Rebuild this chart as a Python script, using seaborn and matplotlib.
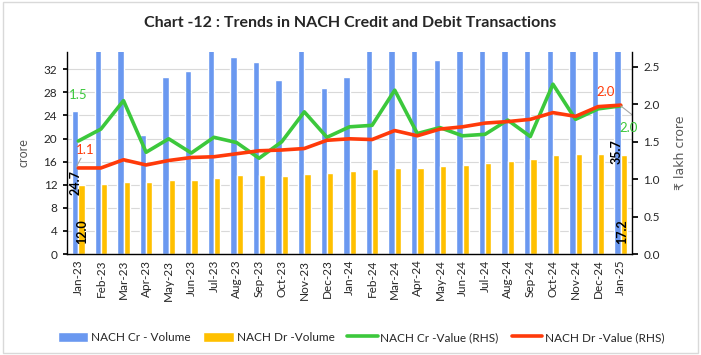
"""Chart 12: trends in NACH credit and debit transactions."""

import matplotlib.pyplot as plt
import numpy as np
import pandas as pd
import seaborn as sns
from matplotlib.lines import Line2D
from matplotlib.patches import Patch, Rectangle


MONTHS = [
    "Jan-23", "Feb-23", "Mar-23", "Apr-23", "May-23", "Jun-23", "Jul-23",
    "Aug-23", "Sep-23", "Oct-23", "Nov-23", "Dec-23", "Jan-24", "Feb-24",
    "Mar-24", "Apr-24", "May-24", "Jun-24", "Jul-24", "Aug-24", "Sep-24",
    "Oct-24", "Nov-24", "Dec-24", "Jan-25",
]
# volumes in crore (many credit bars run past the top of the axis)
CR_VOLUME = [
    24.7, 36.5, 40.2, 20.7, 30.6, 31.7, 35.5, 34.2, 33.3, 30.2, 36.8, 28.8,
    30.6, 37.0, 42.0, 36.0, 33.6, 36.5, 37.5, 38.0, 37.0, 41.0, 38.5, 39.0,
    35.7,
]
DR_VOLUME = [
    12.0, 12.1, 12.4, 12.4, 12.8, 12.9, 13.2, 13.7, 13.7, 13.5, 13.8, 14.0,
    14.4, 14.7, 14.9, 14.9, 15.3, 15.4, 15.8, 16.2, 16.5, 17.1, 17.3, 17.4,
    17.2,
]
# values in lakh crore (RHS)
CR_VALUE = [
    1.51, 1.67, 2.05, 1.36, 1.54, 1.35, 1.56, 1.49, 1.28, 1.50, 1.90, 1.56,
    1.70, 1.72, 2.19, 1.61, 1.69, 1.58, 1.60, 1.79, 1.57, 2.27, 1.80, 1.94,
    1.98,
]
DR_VALUE = [
    1.15, 1.15, 1.26, 1.19, 1.25, 1.29, 1.30, 1.34, 1.38, 1.39, 1.41, 1.52,
    1.54, 1.53, 1.65, 1.58, 1.67, 1.70, 1.75, 1.77, 1.80, 1.89, 1.84, 1.97,
    1.99,
]

BLUE = "#6A98F0"
ORANGE = "#FFC000"
GREEN = "#3CC83C"
RED = "#FF3A0A"


def main() -> None:
    sns.set_theme(style="white")
    plt.rcParams["font.family"] = ["Lato", "DejaVu Sans"]

    bars = pd.DataFrame({
        "month": MONTHS * 2,
        "volume": CR_VOLUME + DR_VOLUME,
        "series": ["NACH Cr - Volume"] * len(MONTHS) + ["NACH Dr -Volume"] * len(MONTHS),
    })

    fig = plt.figure(figsize=(7.01, 3.55), dpi=100)
    fig.patches.append(Rectangle((0.004, 0.006), 0.992, 0.988, transform=fig.transFigure,
                                 fill=False, edgecolor="#d9d9d9", linewidth=1))
    ax = fig.add_axes([0.0956, 0.2845, 0.806, 0.569])

    sns.barplot(data=bars, x="month", y="volume", hue="series", order=MONTHS,
                palette=[BLUE, ORANGE], width=0.56, gap=0, ax=ax, legend=False,
                saturation=1)
    ax.set_ylim(0, 35)
    ax.set_xlim(-0.5, len(MONTHS) - 0.5)
    ax.set_yticks(np.arange(0, 33, 4))
    ax.yaxis.grid(True, color="#d9d9d9", linewidth=0.8)
    ax.set_axisbelow(True)
    ax.set_xlabel("")
    ax.set_ylabel("crore", color="#595959", fontsize=9, labelpad=10)
    ax.tick_params(axis="x", rotation=90, labelsize=8.5, length=0, pad=4)
    ax.tick_params(axis="y", labelsize=8.5, length=3, direction="out", pad=4,
                   color="black", left=True)
    for side in ["top", "right"]:
        ax.spines[side].set_visible(False)
    for side in ["left", "bottom"]:
        ax.spines[side].set_color("black")
        ax.spines[side].set_linewidth(1)

    ax2 = ax.twinx()
    x_pos = np.arange(len(MONTHS))
    sns.lineplot(x=x_pos, y=CR_VALUE, color=GREEN, linewidth=2.6, ax=ax2)
    sns.lineplot(x=x_pos, y=DR_VALUE, color=RED, linewidth=2.6, ax=ax2)
    ax2.set_ylim(0, 2.7)
    ax2.set_yticks(np.arange(0, 2.6, 0.5))
    ax2.set_yticklabels([f"{v:.1f}" for v in np.arange(0, 2.6, 0.5)])
    ax2.set_ylabel("₹ lakh crore", color="#595959", fontsize=9, labelpad=10,
                   family=["DejaVu Sans"])
    ax2.tick_params(axis="y", labelsize=8.5, length=4, direction="out", pad=4, color="black")
    for side in ["top", "left", "bottom"]:
        ax2.spines[side].set_visible(False)
    ax2.spines["right"].set_color("black")
    ax2.spines["right"].set_linewidth(1)

    # data labels for first and last month
    ax.text(-0.12, 12.3, f"{CR_VOLUME[0]:.1f}", rotation=90, ha="center", va="center",
            fontsize=9, fontweight="bold", color="black")
    ax.text(0.15, 3.8, f"{DR_VOLUME[0]:.1f}", rotation=90, ha="center", va="center",
            fontsize=9, fontweight="bold", color="black")
    ax.text(23.8, 17.7, f"{CR_VOLUME[-1]:.1f}", rotation=90, ha="center", va="center",
            fontsize=9, fontweight="bold", color="black")
    ax.text(24.08, 3.8, f"{DR_VOLUME[-1]:.1f}", rotation=90, ha="center", va="center",
            fontsize=9, fontweight="bold", color="black")
    ax2.text(0.0, 2.13, f"{CR_VALUE[0]:.1f}", ha="center", va="center",
             fontsize=9.5, color=GREEN)
    ax2.text(0.3, 1.39, f"{DR_VALUE[0]:.1f}", ha="center", va="center",
             fontsize=9.5, color=RED)
    ax2.plot([-0.1, 0.12], [1.16, 1.28], color="#a6a6a6", linewidth=0.8)
    ax2.text(23.35, 2.17, f"{DR_VALUE[-1]:.1f}", ha="center", va="center",
             fontsize=9.5, color=RED)
    ax2.text(24.37, 1.68, f"{CR_VALUE[-1]:.1f}", ha="center", va="center",
             fontsize=9.5, color=GREEN)
    ax2.plot([24.0, 24.55], [1.98, 1.85], color="#a6a6a6", linewidth=0.8)

    fig.suptitle("Chart -12 : Trends in NACH Credit and Debit Transactions",
                 x=0.5, y=0.955, fontsize=11.5, fontweight="bold")

    handles = [
        Patch(facecolor=BLUE, label="NACH Cr - Volume"),
        Patch(facecolor=ORANGE, label="NACH Dr -Volume"),
        Line2D([0], [0], color=GREEN, linewidth=2.6, label="NACH Cr -Value (RHS)"),
        Line2D([0], [0], color=RED, linewidth=2.6, label="NACH Dr -Value (RHS)"),
    ]
    fig.legend(handles=handles, loc="center", bbox_to_anchor=(0.515, 0.05), ncol=4,
               frameon=False, fontsize=8.5, handlelength=2.6, handleheight=1.0,
               columnspacing=1.1, handletextpad=0.2)

    fig.savefig("out.png", dpi=100)
    plt.close(fig)


if __name__ == "__main__":
    main()
